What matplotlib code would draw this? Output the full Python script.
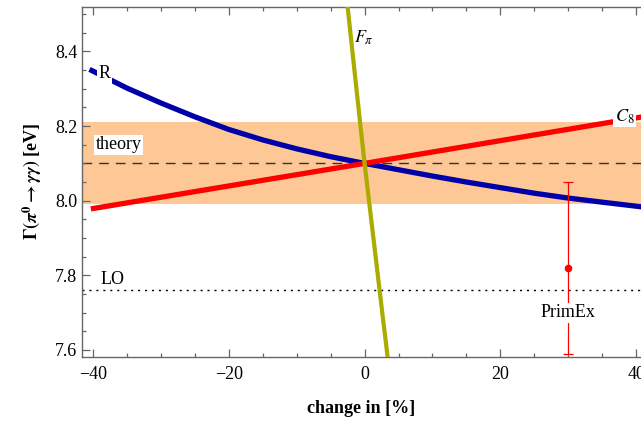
import matplotlib
matplotlib.use("Agg")
import matplotlib.pyplot as plt
from matplotlib.ticker import MultipleLocator, FormatStrFormatter

plt.rcParams.update({
    "font.family": "Liberation Serif",
    "mathtext.fontset": "stix",
    "font.size": 13,
})

# ── data ───────────────────────────────────────────────────────────────────
R_X = [-40.5, -35, -30, -25, -20, -15, -10, -5, 0, 5, 10, 15, 20, 25, 30, 35, 41]
R_Y = [8.352, 8.302, 8.262, 8.225, 8.191, 8.163, 8.139, 8.118, 8.100,
       8.083, 8.066, 8.050, 8.035, 8.020, 8.007, 7.996, 7.983]

C8_X = [-40.3, 0.0, 41.0]
C8_Y = [7.978, 8.100, 8.225]

FPI_X = [-2.5, -1.2, 0.0, 1.3, 2.6, 3.4]
FPI_Y = [8.52, 8.30, 8.10, 7.90, 7.70, 7.58]

THEORY = 8.10
THEORY_ERR = 0.11
LO = 7.76
PRIMEX_X = 30.0
PRIMEX_Y = 7.82
PRIMEX_ERR = 0.23

BLUE = "#0000a8"
RED = "#ff0000"
OLIVE = "#abab00"
BAND = "#fdc896"
GREY = "#666666"

fig = plt.figure(figsize=(6.41, 4.21), dpi=100)
ax = fig.add_axes([0.128, 0.153, 0.872, 0.831])

ax.axhspan(THEORY - THEORY_ERR, THEORY + THEORY_ERR, color=BAND, lw=0, zorder=0)
ax.axhline(THEORY, color="#333333", lw=1.0, dashes=(7, 5), zorder=1)
ax.axhline(LO, color="black", lw=1.0, dashes=(1.5, 3.5), zorder=1)

ax.plot(R_X, R_Y, color=BLUE, lw=3.8, solid_capstyle="butt", zorder=3)
ax.plot(C8_X, C8_Y, color=RED, lw=3.8, solid_capstyle="butt", zorder=3)
ax.plot(FPI_X, FPI_Y, color=OLIVE, lw=3.0, solid_capstyle="butt", zorder=4)

ax.errorbar([PRIMEX_X], [PRIMEX_Y], yerr=[PRIMEX_ERR], fmt="o", color=RED,
            ms=4.5, lw=0.9, capsize=3.5, capthick=0.9, zorder=3)

box = dict(facecolor="white", edgecolor="none", pad=1.0)
ax.text(-39.6, 8.15, "theory", ha="left", va="center", bbox=box, zorder=5)
ax.text(-39.2, 8.340, "R", ha="left", va="center", bbox=box, zorder=5)
ax.text(-38.9, 7.79, "LO", ha="left", va="center", zorder=5)
ax.text(-1.6, 8.437, r"$F_\pi$", ha="left", va="center", zorder=5)
ax.text(38.3, 8.225, r"$C_8$", ha="center", va="center", bbox=box, zorder=5)
ax.text(PRIMEX_X, 7.70, "PrimEx", ha="center", va="center", bbox=box, zorder=5)

ax.set_xlim(-41.6, 40.7)
ax.set_ylim(7.582, 8.52)
ax.xaxis.set_major_locator(MultipleLocator(20))
ax.xaxis.set_minor_locator(MultipleLocator(5))
ax.yaxis.set_major_locator(MultipleLocator(0.2))
ax.yaxis.set_minor_locator(MultipleLocator(0.05))
ax.yaxis.set_major_formatter(FormatStrFormatter("%.1f"))

ax.tick_params(which="both", direction="in", top=True, right=False,
               color=GREY, width=0.9, labelsize=13)
ax.tick_params(axis="x", pad=7)
ax.tick_params(which="major", length=5.5)
ax.tick_params(which="minor", length=3)
for s in ("left", "bottom", "top"):
    ax.spines[s].set_color(GREY)
    ax.spines[s].set_linewidth(1.0)
ax.spines["right"].set_visible(False)

ax.set_xlabel("change in [%]", fontweight="bold", labelpad=12)
ax.set_ylabel(r"$\mathbf{\Gamma(}\mathbfit{\pi}^{\mathbf{0}}\mathbf{\rightarrow}\mathbfit{\gamma\gamma}\mathbf{)}$ [eV]",
              fontweight="bold", labelpad=8)

fig.savefig("out.png", dpi=100, facecolor="white")
